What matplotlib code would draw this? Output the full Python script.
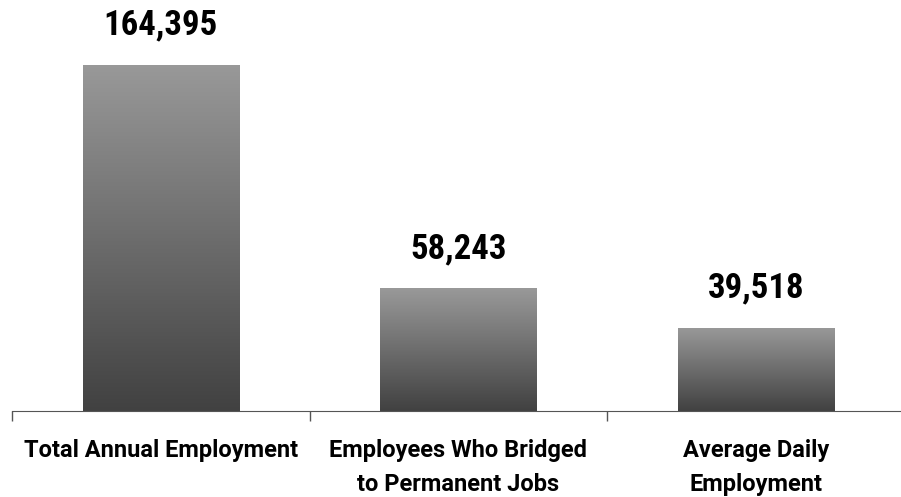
import matplotlib
matplotlib.use("Agg")
import matplotlib.pyplot as plt
import numpy as np
from matplotlib.colors import LinearSegmentedColormap

categories = ["Total Annual Employment", "Employees Who Bridged\nto Permanent Jobs", "Average Daily\nEmployment"]
values = [164395, 58243, 39518]
value_labels = ["164,395", "58,243", "39,518"]

plt.rcParams['font.family'] = ['Roboto Condensed', 'DejaVu Sans']

fig = plt.figure(figsize=(9.01, 4.97), dpi=100)
ax = fig.add_axes([12/901, 86/497, 893/901, 411/497])

x = np.arange(len(categories))
bars = ax.bar(x, values, width=0.525, color='none', edgecolor='none')

grad = np.linspace(0, 1, 256).reshape(-1, 1)
cmap = LinearSegmentedColormap.from_list('g', ['#414141', '#999999'])
for b in bars:
    x0, y0 = b.get_x(), b.get_y()
    w, h = b.get_width(), b.get_height()
    im = ax.imshow(grad, extent=[x0, x0 + w, y0, y0 + h], origin='lower',
                   aspect='auto', cmap=cmap, zorder=2)
    im.set_clip_path(b)

for xi, v, lab in zip(x, values, value_labels):
    ax.annotate(lab, (xi, v), xytext=(0, 21.5), textcoords='offset points',
                ha='center', va='baseline', fontsize=25, fontweight='bold')

ax.set_xlim(-0.5, 2.5)
ax.set_ylim(0, 195000)
ax.set_xticks([-0.5, 0.5, 1.5, 2.5])
ax.set_xticklabels([])
ax.set_xticks(x, minor=True)
ax.set_xticklabels(categories, minor=True, fontsize=17, fontweight='bold',
                   family=['Roboto', 'DejaVu Sans'])
ax.tick_params(axis='x', which='minor', length=0, pad=20)
ax.tick_params(axis='x', which='major', length=7, width=1, color='#555555')
ax.set_yticks([])
for s in ['top', 'right', 'left']:
    ax.spines[s].set_visible(False)
ax.spines['bottom'].set_color('#555555')
for t in ax.get_xminorticklabels():
    t.set_linespacing(1.6)

fig.savefig('out.png', dpi=100)
